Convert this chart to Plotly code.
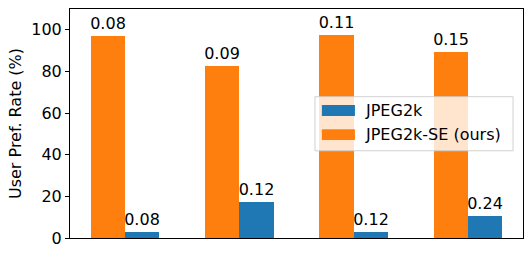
import plotly.graph_objects as go

groups = [0, 1, 2, 3]
series_names = ["JPEG2k", "JPEG2k-SE (ours)"]
jpeg2k_vals = [3.0, 17.2, 2.7, 10.7]
jpeg2k_se_vals = [97.0, 82.8, 97.3, 89.3]
jpeg2k_labels = ["0.08", "0.12", "0.12", "0.24"]
jpeg2k_se_labels = ["0.08", "0.09", "0.11", "0.15"]
y_ticks = [0, 20, 40, 60, 80, 100]

BLUE = "#1f77b4"
ORANGE = "#ff7f0e"
W = 0.3
FONT = "DejaVu Sans"

fig = go.Figure()
fig.add_trace(go.Bar(
    x=[g - W / 2 for g in groups], y=jpeg2k_se_vals, width=W,
    marker=dict(color=ORANGE, line=dict(width=0)),
    text=jpeg2k_se_labels, textposition="outside", constraintext="none",
    textfont=dict(size=16, color="black", family=FONT),
    cliponaxis=False, name=series_names[1], showlegend=False,
))
fig.add_trace(go.Bar(
    x=[g + W / 2 for g in groups], y=jpeg2k_vals, width=W,
    marker=dict(color=BLUE, line=dict(width=0)),
    text=jpeg2k_labels, textposition="outside", constraintext="none",
    textfont=dict(size=16, color="black", family=FONT),
    cliponaxis=False, name=series_names[0], showlegend=False,
))

# manual legend (matplotlib style)
shapes = [
    dict(type="rect", xref="paper", yref="paper", x0=0.5408, x1=0.978, y0=0.381, y1=0.617,
         fillcolor="rgba(255,255,255,0.8)", line=dict(color="rgba(204,204,204,0.9)", width=1), layer="above"),
    dict(type="rect", xref="paper", yref="paper", x0=0.556, x1=0.629, y0=0.533, y1=0.581,
         fillcolor=BLUE, line=dict(width=0), layer="above"),
    dict(type="rect", xref="paper", yref="paper", x0=0.556, x1=0.629, y0=0.428, y1=0.475,
         fillcolor=ORANGE, line=dict(width=0), layer="above"),
]
annotations = [
    dict(xref="paper", yref="paper", x=0.647, y=0.557, text=series_names[0], showarrow=False,
         xanchor="left", yanchor="middle", font=dict(size=16, color="black", family=FONT)),
    dict(xref="paper", yref="paper", x=0.647, y=0.451, text=series_names[1], showarrow=False,
         xanchor="left", yanchor="middle", font=dict(size=16, color="black", family=FONT)),
]

fig.update_layout(
    width=532, height=257,
    margin=dict(l=70, r=9, t=9, b=19, autoexpand=False),
    paper_bgcolor="white", plot_bgcolor="white",
    barmode="overlay", bargap=0,
    font=dict(family=FONT, size=16, color="black"),
    shapes=shapes, annotations=annotations,
    showlegend=False,
)
fig.update_xaxes(range=[-0.48, 3.48], showticklabels=False, ticks="", showgrid=False,
                 zeroline=False, showline=True, mirror=True, linecolor="black", linewidth=1,
                 automargin=False)
fig.update_yaxes(range=[0, 110], tickvals=y_ticks, ticks="outside", ticklen=4, tickwidth=1,
                 tickcolor="black", showgrid=False, zeroline=False, showline=True, mirror=True,
                 linecolor="black", linewidth=1, automargin=False,
                 title=dict(text="User Pref. Rate (%)", font=dict(size=16), standoff=5),
                 tickfont=dict(size=16))

fig.write_html("out.html", config={"displayModeBar": False},
               post_script="document.body.style.margin='0';document.body.style.overflow='hidden';")
